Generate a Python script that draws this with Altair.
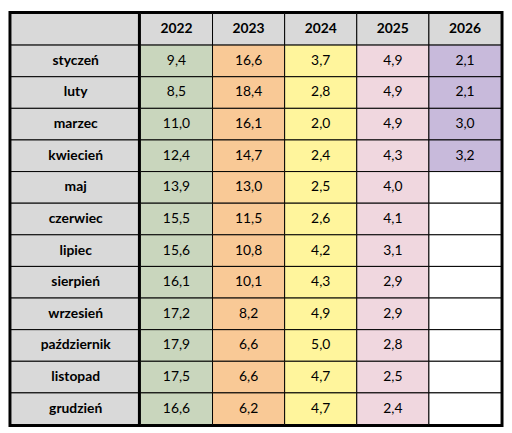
import altair as alt
import pandas as pd

months = ["styczeń", "luty", "marzec", "kwiecień", "maj", "czerwiec", "lipiec",
          "sierpień", "wrzesień", "październik", "listopad", "grudzień"]
years = ["2022", "2023", "2024", "2025", "2026"]
v2022 = [9.4, 8.5, 11.0, 12.4, 13.9, 15.5, 15.6, 16.1, 17.2, 17.9, 17.5, 16.6]
v2023 = [16.6, 18.4, 16.1, 14.7, 13.0, 11.5, 10.8, 10.1, 8.2, 6.6, 6.6, 6.2]
v2024 = [3.7, 2.8, 2.0, 2.4, 2.5, 2.6, 4.2, 4.3, 4.9, 5.0, 4.7, 4.7]
v2025 = [4.9, 4.9, 4.9, 4.3, 4.0, 4.1, 3.1, 2.9, 2.9, 2.8, 2.5, 2.4]
v2026 = [2.1, 2.1, 3.0, 3.2, None, None, None, None, None, None, None, None]
year_colors = ["#c9d6bd", "#f9c996", "#fff59c", "#f0d7df", "#c8badb"]
header_color = "#d9d9d9"
empty_color = "#ffffff"

series = [v2022, v2023, v2024, v2025, v2026]
HDR = "hdr"
row_order = [HDR] + months

# data cells
cells = []
for yi, y in enumerate(years):
    cells.append({"row": HDR, "col": y, "label": y, "fill": header_color, "hdr": True})
    for mi, m in enumerate(months):
        v = series[yi][mi]
        if v is None:
            cells.append({"row": m, "col": y, "label": "", "fill": empty_color, "hdr": False})
        else:
            cells.append({"row": m, "col": y, "label": f"{v:.1f}".replace(".", ","),
                          "fill": year_colors[yi], "hdr": False})
cells_df = pd.DataFrame(cells)

labels_df = pd.DataFrame({"row": row_order, "label": [""] + months, "fill": header_color})

FONT = "Lato"
FS = 14
H = 416

yenc = alt.Y("row:N", sort=row_order, axis=None,
             scale=alt.Scale(paddingInner=0, paddingOuter=0))

left_base = alt.Chart(labels_df)
left = alt.layer(
    left_base.mark_rect(stroke="black", strokeWidth=1).encode(
        y=yenc, fill=alt.Fill("fill:N", scale=None)),
    left_base.mark_text(font=FONT, fontSize=FS, fontWeight="bold", color="#000000").encode(
        y=alt.Y("row:N", sort=row_order, axis=None), text="label:N"),
).properties(width=131, height=H)

right_base = alt.Chart(cells_df)
xenc = alt.X("col:N", sort=years, axis=None,
             scale=alt.Scale(paddingInner=0, paddingOuter=0))
right = alt.layer(
    right_base.mark_rect(stroke="black", strokeWidth=1).encode(
        x=xenc, y=yenc, fill=alt.Fill("fill:N", scale=None)),
    right_base.transform_filter("datum.hdr").mark_text(
        font=FONT, fontSize=FS, fontWeight="bold", color="#000000").encode(
        x=alt.X("col:N", sort=years, axis=None),
        y=alt.Y("row:N", sort=row_order, axis=None), text="label:N"),
    right_base.transform_filter("!datum.hdr").mark_text(
        font=FONT, fontSize=FS, fontWeight="normal", color="#000000").encode(
        x=alt.X("col:N", sort=years, axis=None),
        y=alt.Y("row:N", sort=row_order, axis=None), text="label:N"),
).properties(width=365, height=H)

chart = alt.hconcat(left, right, spacing=0, bounds="flush").properties(padding=0).configure_view(
    stroke="black", strokeWidth=5)

chart.save("out.html", embed_options={"renderer": "svg", "actions": False})
